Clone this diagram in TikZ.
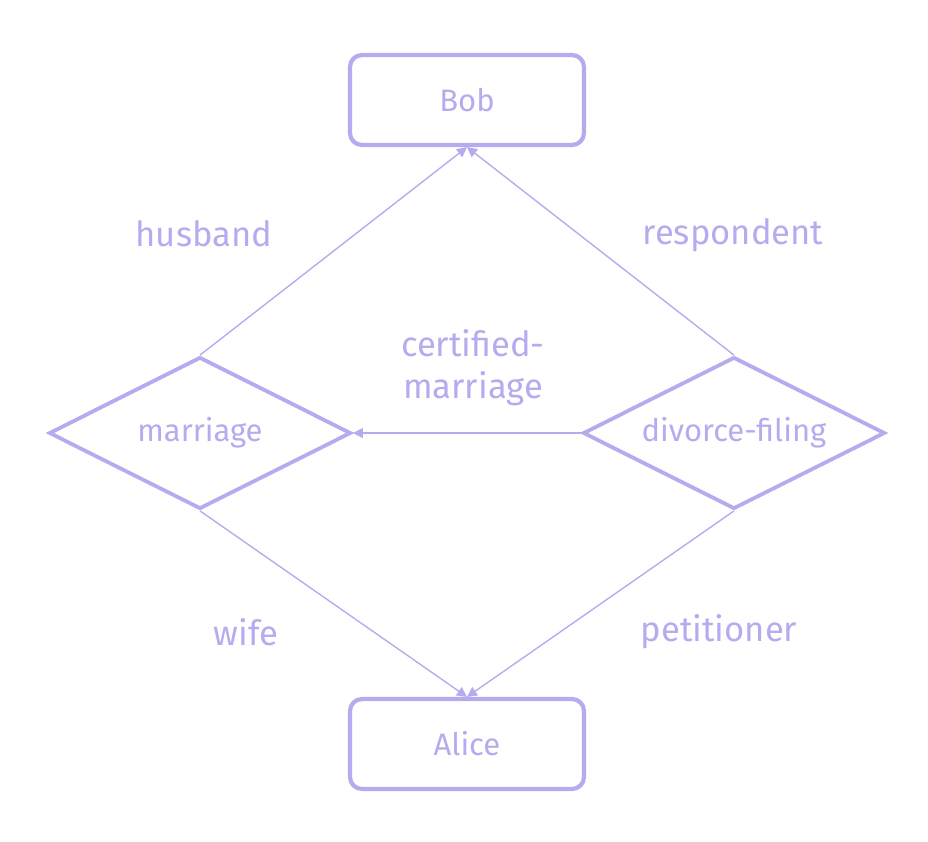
\documentclass[tikz,border=0pt]{standalone}
\usepackage{fontspec}
\setmainfont{Fira Sans}
\usetikzlibrary{shapes.geometric,arrows.meta}
\definecolor{lav}{RGB}{180,172,238}
\begin{document}
\begin{tikzpicture}[x=0.5pt, y=-0.5pt,
    entity/.style={rectangle, draw=lav, line width=2.1pt, rounded corners=6pt, minimum width=117pt, minimum height=45pt, text=lav, font=\fontsize{15.5}{18}\selectfont},
    relation/.style={diamond, draw=lav, line width=1.9pt, aspect=2, inner sep=0pt, minimum width=151pt, minimum height=76pt, text=lav, font=\fontsize{15.5}{18}\selectfont},
    role/.style={text=lav, font=\fontsize{17.3}{21}\selectfont, align=center},
    link/.style={-{Triangle[length=5pt, width=5pt]}, draw=lav, line width=0.7pt}
]
    \useasboundingbox (0,0) rectangle (928,842);
    % Entities
    \node[entity] (bob) at (467, 100) {Bob};
    \node[entity] (alice) at (467, 744) {Alice};
    % Relations
    \node[relation] (marriage) at (200, 433) {marriage};
    \node[relation] (filing) at (734, 433) {divorce-filing};
    % Roles
    \draw[link] (marriage.north) -- (bob.south);
    \draw[link] (filing.north) -- (bob.south);
    \draw[link] (marriage.south) -- (alice.north);
    \draw[link] (filing.south) -- (alice.north);
    \draw[link] (filing.west) -- (marriage.east);
    \node[role] (husband) at (204, 234) {husband};
    \node[role] (respondent) at (733, 235) {respondent};
    \node[role] (wife) at (246, 632) {wife};
    \node[role] (petitioner) at (719, 632) {petitioner};
    \node[role] (certified) at (473, 368) {certified-\\marriage};
\end{tikzpicture}
\end{document}
